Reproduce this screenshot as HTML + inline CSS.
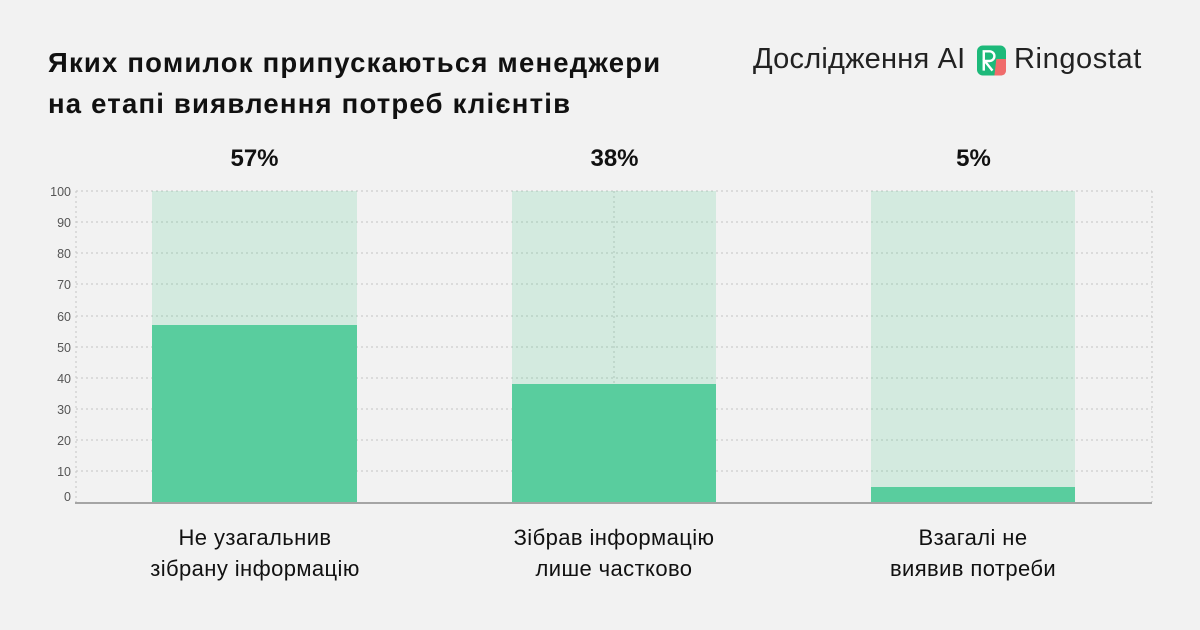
<!DOCTYPE html>
<html><head><meta charset="utf-8"><style>
body{margin:0;width:1200px;height:630px;background:#f2f2f2;font-family:"Liberation Sans","DejaVu Sans",sans-serif;position:relative;overflow:hidden}
.t{position:absolute;left:48px;top:42px;font-size:27.5px;font-weight:bold;line-height:41px;color:#111;letter-spacing:1.2px;white-space:nowrap}
.brand{position:absolute;top:43px;font-size:29px;font-weight:300;color:#222;letter-spacing:0.2px}
.p{position:absolute;top:145px;width:205px;text-align:center;font-size:24px;font-weight:bold;color:#111}
.c{position:absolute;top:522px;width:360px;text-align:center;font-size:22px;line-height:31px;color:#111;letter-spacing:0.4px}
</style></head><body>
<div class="t">Яких помилок припускаються менеджери<br>на етапі виявлення потреб клієнтів</div>
<div class="brand" style="left:753px">Дослідження AI</div>
<svg style="position:absolute;left:977px;top:45px" width="29" height="31" viewBox="0 0 30 31">
<rect x="0" y="0" width="30" height="31" rx="6" fill="#1db97a"/>
<path d="M7 26V6h6a5 5 0 0 1 0 10h-5l8 10" stroke="#fff" stroke-width="2.5" fill="none"/>
<path d="M20 14h10v12a5 5 0 0 1-5 5h-7z" fill="#f06b6b"/>
</svg>
<div class="brand" style="left:1014px;letter-spacing:0.6px">Ringostat</div>
<svg style="position:absolute;left:0;top:0" width="1200" height="630">
<g stroke="#c4c4c4" stroke-width="1" stroke-dasharray="2,3">
<line x1="76" y1="191" x2="1152" y2="191"/><line x1="76" y1="222" x2="1152" y2="222"/><line x1="76" y1="253" x2="1152" y2="253"/><line x1="76" y1="284" x2="1152" y2="284"/><line x1="76" y1="316" x2="1152" y2="316"/><line x1="76" y1="347" x2="1152" y2="347"/><line x1="76" y1="378" x2="1152" y2="378"/><line x1="76" y1="409" x2="1152" y2="409"/><line x1="76" y1="440" x2="1152" y2="440"/><line x1="76" y1="471" x2="1152" y2="471"/>
<line x1="76" y1="191" x2="76" y2="502"/><line x1="614" y1="191" x2="614" y2="502"/><line x1="1152" y1="191" x2="1152" y2="502"/>
</g>
<g fill="#5ccb98" fill-opacity="0.2"><rect x="152" y="191" width="205" height="311"/><rect x="512" y="191" width="204" height="311"/><rect x="871" y="191" width="204" height="311"/></g>
<g fill="#59cd9e"><rect x="152" y="325" width="205" height="177"/><rect x="512" y="384" width="204" height="118"/><rect x="871" y="487" width="204" height="15"/></g>
<line x1="75" y1="503" x2="1152" y2="503" stroke="#777" stroke-width="1.3"/>
<g font-size="12.5" fill="#555" text-anchor="end" font-family="Liberation Sans,sans-serif">
<text x="71" y="196">100</text><text x="71" y="227">90</text><text x="71" y="258">80</text><text x="71" y="289">70</text><text x="71" y="321">60</text><text x="71" y="352">50</text><text x="71" y="383">40</text><text x="71" y="414">30</text><text x="71" y="445">20</text><text x="71" y="476">10</text><text x="71" y="501">0</text>
</g></svg>
<div class="p" style="left:152px">57%</div><div class="p" style="left:512px">38%</div><div class="p" style="left:871px">5%</div>
<div class="c" style="left:75px">Не узагальнив<br>зібрану інформацію</div>
<div class="c" style="left:434px">Зібрав інформацію<br>лише частково</div>
<div class="c" style="left:793px">Взагалі не<br>виявив потреби</div>
</body></html>
